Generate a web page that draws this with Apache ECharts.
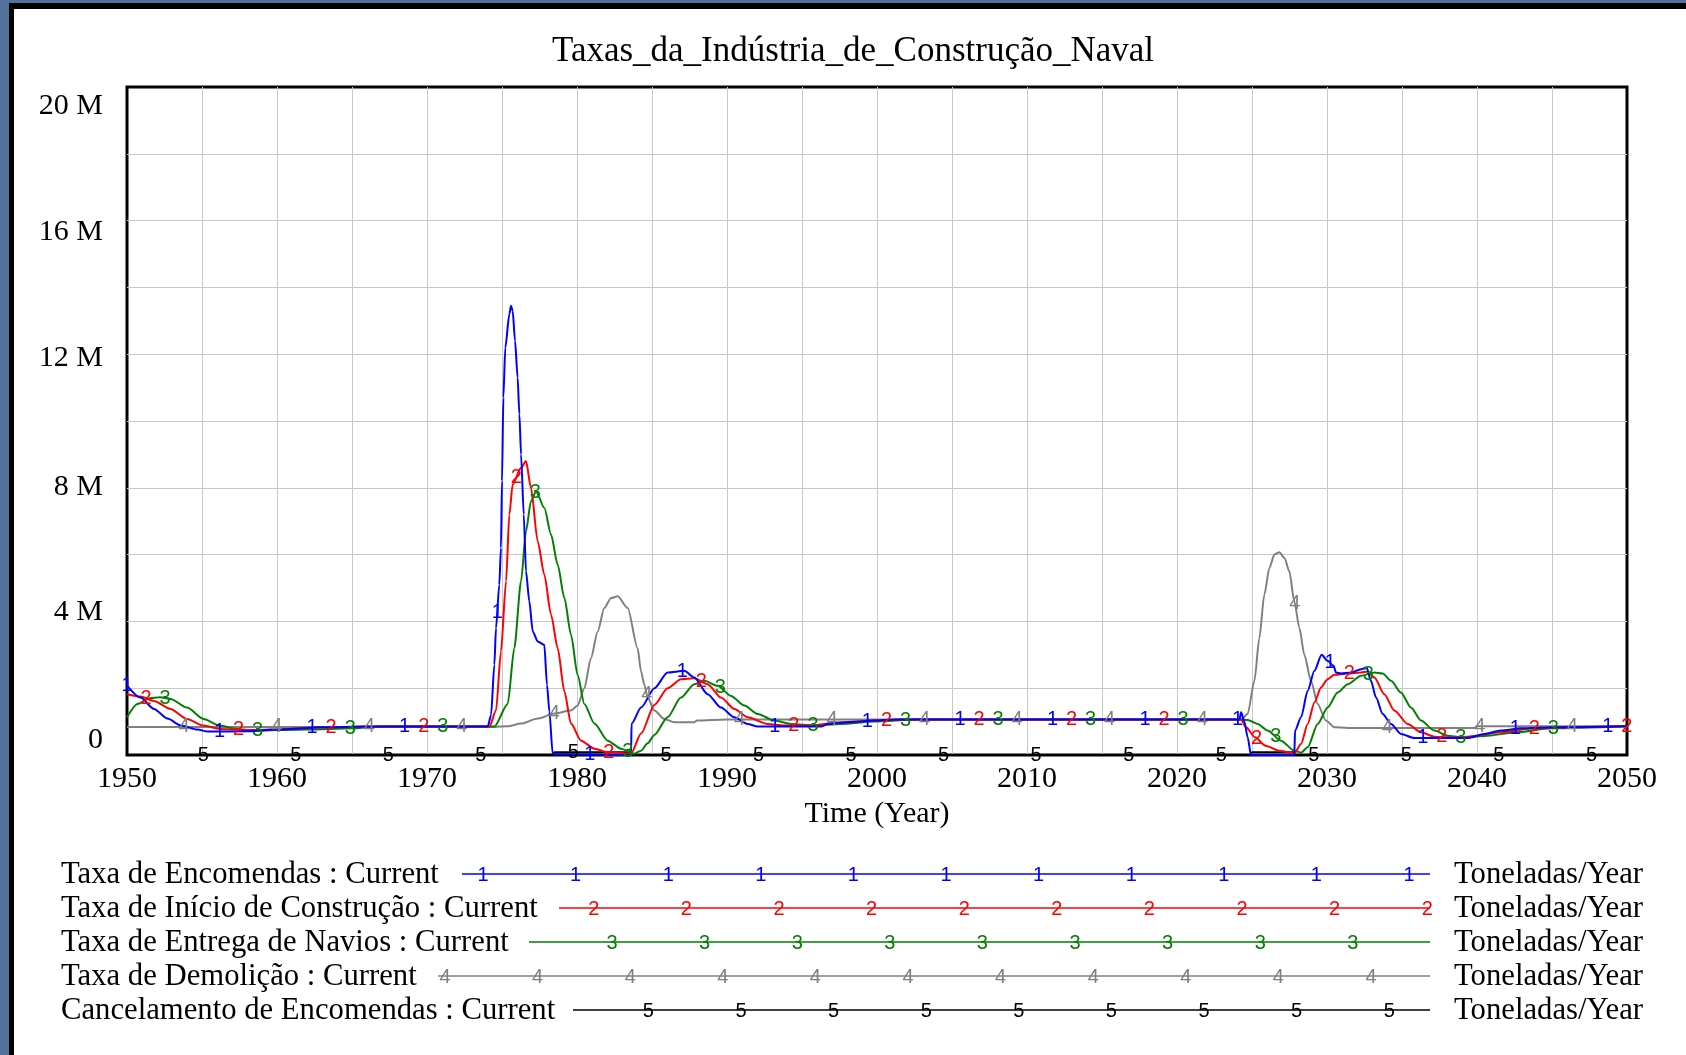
<!DOCTYPE html>
<html>
<head>
<meta charset="utf-8">
<title>Taxas da Indústria de Construção Naval</title>
<script src="https://cdn.jsdelivr.net/npm/echarts@6/dist/echarts.min.js"></script>
<style>
  html, body { margin: 0; padding: 0; }
  body { width: 1686px; height: 1055px; background: #52729c; overflow: hidden; position: relative; }
  #panel { position: absolute; left: 9px; top: 3px; right: 0; bottom: 0; background: #fff; border-left: 5px solid #000; border-top: 6px solid #000; }
  #chart { position: absolute; left: 0; top: 0; width: 1686px; height: 1055px; }
</style>
</head>
<body>
<div id="panel"></div>
<div id="chart"></div>
<script>
const chartTitle = 'Taxas_da_Indústria_de_Construção_Naval'
const xAxisName = 'Time (Year)'
const unit = 'Toneladas/Year'

const seriesNames = [
  'Taxa de Encomendas',
  'Taxa de Início de Construção',
  'Taxa de Entrega de Navios',
  'Taxa de Demolição',
  'Cancelamento de Encomendas',
]
const seriesColors = ['#0000ff', '#ff0000', '#008000', '#808080', '#000000']

// [year, million tonnes/year]
const taxaEncomendas = [
  [1950.0, 2.08], [1950.9, 1.72], [1951.8, 1.38], [1952.7, 1.09], [1953.6, 0.88], [1954.7, 0.76],
  [1955.4, 0.70], [1958.0, 0.71], [1960.0, 0.76], [1962.9, 0.83], [1966.0, 0.85], [1974.05, 0.85],
  [1974.27, 1.2], [1974.49, 2.7], [1974.6, 3.8], [1974.82, 5.1], [1974.93, 6.2], [1975.0, 8.2],
  [1975.09, 10.7], [1975.22, 12.2], [1975.49, 13.2], [1975.6, 13.45], [1975.71, 13.3], [1975.87, 12.4],
  [1976.04, 11.3], [1976.16, 10.2], [1976.27, 9.0], [1976.45, 7.2], [1976.6, 5.5], [1976.82, 4.6],
  [1977.05, 3.7], [1977.38, 3.4], [1977.82, 3.3], [1978.0, 2.1], [1978.16, 1.3], [1978.38, 0.03],
  [1983.6, 0], [1983.64, 0.94], [1984.27, 1.42], [1985.16, 2.0], [1986.04, 2.47], [1987.16, 2.52],
  [1987.82, 2.32], [1988.71, 1.82], [1989.6, 1.42], [1990.49, 1.13], [1991.38, 0.93], [1992.04, 0.85],
  [1996.27, 0.85], [1996.71, 0.93], [1998.04, 0.98], [1999.82, 1.03], [2001.16, 1.06], [2024.16, 1.06],
  [2024.27, 1.28], [2024.49, 1.0], [2024.71, 0.53], [2024.93, 0], [2027.82, 0], [2027.87, 0.73],
  [2028.27, 1.13], [2028.71, 1.92], [2029.16, 2.52], [2029.64, 3.0], [2030.04, 2.82], [2030.44, 2.67],
  [2030.6, 2.47], [2030.93, 2.44], [2031.6, 2.47], [2032.27, 2.57], [2032.64, 2.62], [2032.93, 2.22],
  [2033.27, 1.72], [2033.71, 1.23], [2034.27, 0.93], [2034.93, 0.63], [2035.82, 0.51], [2039.38, 0.51],
  [2040.49, 0.63], [2041.6, 0.73], [2042.93, 0.80], [2045.16, 0.83], [2050, 0.86],
]
const taxaInicioConstrucao = [
  [1950.0, 1.82], [1950.9, 1.75], [1951.8, 1.62], [1952.9, 1.38], [1954.0, 1.08], [1955.1, 0.88],
  [1956.2, 0.78], [1958.4, 0.75], [1960.6, 0.78], [1963.7, 0.83], [1966.0, 0.85], [1974.16, 0.85],
  [1974.6, 1.33], [1974.93, 3.1], [1975.27, 5.2], [1975.49, 7.2], [1975.71, 8.1], [1976.27, 8.6],
  [1976.6, 8.8], [1976.93, 8.0], [1977.38, 6.4], [1977.82, 5.4], [1978.27, 4.2], [1978.71, 3.2],
  [1979.16, 1.9], [1979.6, 0.94], [1980.27, 0.43], [1981.16, 0.19], [1982.04, 0.08], [1983.6, 0.04],
  [1984.27, 0.64], [1985.16, 1.5], [1986.04, 2.0], [1986.93, 2.27], [1987.82, 2.3], [1988.71, 2.12],
  [1989.6, 1.72], [1990.49, 1.38], [1991.38, 1.13], [1992.71, 0.93], [1993.82, 0.88], [1995.38, 0.88],
  [1997.6, 0.98], [1999.82, 1.03], [2001.6, 1.06], [2024.27, 1.06], [2024.6, 0.83], [2025.2, 0.53],
  [2025.9, 0.28], [2026.8, 0.13], [2027.82, 0.05], [2028.27, 0.33], [2028.71, 0.93], [2029.16, 1.57],
  [2029.6, 2.02], [2030.04, 2.27], [2030.49, 2.4], [2031.38, 2.44], [2032.27, 2.47], [2032.71, 2.5],
  [2033.16, 2.32], [2033.82, 1.82], [2034.49, 1.33], [2035.38, 0.93], [2036.27, 0.68], [2037.16, 0.55],
  [2038.27, 0.53], [2039.38, 0.55], [2041.6, 0.68], [2043.82, 0.8], [2046.04, 0.83], [2050, 0.86],
]
const taxaEntregaNavios = [
  [1950.0, 1.13], [1950.7, 1.53], [1951.5, 1.70], [1952.2, 1.73], [1952.9, 1.68], [1954.0, 1.42],
  [1955.1, 1.08], [1956.2, 0.88], [1957.3, 0.78], [1958.4, 0.73], [1962.0, 0.76], [1965.0, 0.80],
  [1967.0, 0.85], [1974.49, 0.85], [1975.38, 1.53], [1975.82, 3.2], [1976.27, 5.2], [1976.6, 6.7],
  [1976.93, 7.6], [1977.27, 7.9], [1977.82, 7.4], [1978.27, 6.6], [1978.71, 5.7], [1979.16, 4.7],
  [1979.6, 3.6], [1980.04, 2.4], [1980.49, 1.53], [1981.16, 0.94], [1982.04, 0.43], [1982.93, 0.19],
  [1983.82, 0.04], [1984.27, 0.13], [1984.71, 0.35], [1985.16, 0.6], [1986.04, 1.13], [1986.93, 1.72],
  [1987.82, 2.12], [1988.49, 2.22], [1989.38, 2.07], [1990.27, 1.77], [1991.16, 1.48], [1992.04, 1.23],
  [1993.16, 1.03], [1994.27, 0.93], [1995.82, 0.88], [1997.6, 0.93], [1999.82, 1.0], [2002.71, 1.06],
  [2024.27, 1.06], [2024.71, 1.05], [2025.38, 0.93], [2026.04, 0.73], [2026.93, 0.43], [2027.82, 0.13],
  [2028.27, 0.07], [2028.71, 0.23], [2029.38, 0.93], [2030.04, 1.42], [2030.71, 1.87], [2031.38, 2.12],
  [2032.27, 2.37], [2033.16, 2.47], [2033.71, 2.44], [2034.27, 2.22], [2034.93, 1.87], [2035.6, 1.42],
  [2036.27, 1.03], [2037.16, 0.73], [2038.04, 0.58], [2038.93, 0.53], [2040.49, 0.57], [2042.71, 0.68],
  [2044.93, 0.8], [2050, 0.86],
]
const taxaDemolicao = [
  [1950, 0.84], [1974.5, 0.84], [1975.38, 0.86], [1976.27, 0.94], [1977.38, 1.09], [1978.49, 1.24],
  [1979.6, 1.33], [1980.04, 1.48], [1980.49, 2.0], [1980.93, 2.9], [1981.38, 3.7], [1981.82, 4.4],
  [1982.27, 4.7], [1982.71, 4.75], [1983.38, 4.4], [1984.04, 3.2], [1984.27, 2.5], [1984.49, 2.1],
  [1984.71, 1.72], [1985.16, 1.33], [1985.82, 1.08], [1986.49, 0.98], [1987.8, 0.98], [1988.0, 1.03],
  [1990.0, 1.06], [2024.27, 1.06], [2024.71, 1.23], [2025.16, 2.22], [2025.49, 3.5], [2025.82, 4.8],
  [2026.16, 5.6], [2026.49, 6.0], [2026.82, 6.07], [2027.16, 5.9], [2027.49, 5.5], [2027.82, 4.6],
  [2028.16, 3.8], [2028.49, 3.0], [2028.93, 2.22], [2029.38, 1.53], [2029.93, 1.03], [2030.49, 0.83],
  [2031.38, 0.81], [2039.82, 0.81], [2040.0, 0.86], [2050, 0.86],
]
const cancelamentoEncomendas = [
  [1950, 0], [1978.4, 0], [1978.5, 0.08], [1983.6, 0.08], [1983.7, 0],
  [2024.9, 0], [2025.0, 0.08], [2027.8, 0.08], [2027.9, 0], [2050, 0],
]

const seriesData = [taxaEncomendas, taxaInicioConstrucao, taxaEntregaNavios, taxaDemolicao, cancelamentoEncomendas]

const serif = '"Liberation Serif", "Times New Roman", serif'
const sans = '"Liberation Sans", Arial, sans-serif'

// value of a series at year t, used to sit the number markers on the line
const valueAt = (data, t) => {
  for (let i = 0; i < data.length - 1; i++) {
    const [x0, y0] = data[i]
    const [x1, y1] = data[i + 1]
    if (t >= x0 && t <= x1) return x1 === x0 ? y1 : y0 + (y1 - y0) * (t - x0) / (x1 - x0)
  }
  return data[data.length - 1][1]
}

const markerYears = (idx) => {
  const out = []
  for (let t = 1950 + idx * 1.27; t <= 2050; t += 6.17) out.push(t)
  return out
}

// y labels in the original sit a bit off their grid line
const yLabelShift = { 20: 19, 16: 12, 12: 4, 8: -1, 4: -9, 0: -15 }
const yRich = {}
Object.keys(yLabelShift).forEach((v) => {
  const d = yLabelShift[v]
  yRich['m' + v] = {
    fontFamily: serif,
    fontSize: 30,
    color: '#000',
    padding: d > 0 ? [2 * d, 0, 0, 0] : [0, 0, -2 * d, 0],
  }
})

const legendGraphic = []
const legendLineStart = [462, 559, 529, 438, 573]
seriesNames.forEach((name, i) => {
  const y = 875 + i * 34
  legendGraphic.push({
    type: 'text', x: 61, y,
    style: { text: name + ' : Current', font: '30.7px ' + serif, fill: '#000', align: 'left', verticalAlign: 'middle' },
  })
  legendGraphic.push({
    type: 'line',
    shape: { x1: legendLineStart[i], y1: y - 1, x2: 1430, y2: y - 1 },
    style: { stroke: seriesColors[i], lineWidth: 1.5 },
  })
  for (let x = 483 + i * 18.2 - 92.6; x <= 1430; x += 92.6) {
    if (x < legendLineStart[i]) continue
    legendGraphic.push({
      type: 'text', x, y,
      style: { text: String(i + 1), font: '20px ' + sans, fill: seriesColors[i], align: 'center', verticalAlign: 'middle' },
    })
  }
  legendGraphic.push({
    type: 'text', x: 1454, y,
    style: { text: unit, font: '30.7px ' + serif, fill: '#000', align: 'left', verticalAlign: 'middle' },
  })
})

const series = seriesData.map((data, i) => ({
  name: seriesNames[i],
  type: 'line',
  data,
  showSymbol: false,
  clip: false,
  smooth: 0.25,
  smoothMonotone: 'x',
  lineStyle: { color: seriesColors[i], width: 2 },
  itemStyle: { color: seriesColors[i] },
  markPoint: {
    silent: true,
    symbol: 'circle',
    symbolSize: 1,
    itemStyle: { color: 'transparent' },
    label: {
      show: true,
      position: 'inside',
      formatter: String(i + 1),
      color: seriesColors[i],
      fontFamily: sans,
      fontSize: 20,
    },
    data: markerYears(i).map((t) => ({ coord: [t, valueAt(data, t)] })),
  },
})).reverse()

const chart = echarts.init(document.getElementById('chart'))

chart.setOption({
  animation: false,
  backgroundColor: 'transparent',
  title: {
    text: chartTitle,
    left: 853,
    top: 34,
    padding: 0,
    textAlign: 'center',
    textStyle: { fontFamily: serif, fontSize: 35, fontWeight: 'normal', color: '#000' },
  },
  grid: {
    left: 127,
    top: 87,
    width: 1500,
    height: 668,
    show: true,
    borderColor: '#000',
    borderWidth: 3,
  },
  xAxis: {
    type: 'value',
    min: 1950,
    max: 2050,
    interval: 5,
    name: xAxisName,
    nameLocation: 'middle',
    nameGap: 57,
    nameTextStyle: { fontFamily: serif, fontSize: 30, color: '#000', verticalAlign: 'middle' },
    axisLine: { show: false },
    axisTick: { show: false },
    axisLabel: {
      margin: 9,
      fontFamily: serif,
      fontSize: 30,
      color: '#000',
      formatter: (v) => (v % 10 === 0 ? String(v) : ''),
    },
    splitLine: { show: true, showMinLine: false, showMaxLine: false, lineStyle: { color: '#c8c8c8', width: 1 } },
  },
  yAxis: {
    type: 'value',
    min: 0,
    max: 20,
    interval: 2,
    axisLine: { show: false },
    axisTick: { show: false },
    axisLabel: {
      margin: 24,
      formatter: (v) => (v % 4 === 0 ? '{m' + v + '|' + (v === 0 ? '0' : v + ' M') + '}' : ''),
      rich: yRich,
    },
    splitLine: { show: true, showMinLine: false, showMaxLine: false, lineStyle: { color: '#c8c8c8', width: 1 } },
  },
  graphic: legendGraphic,
  series,
})
</script>
</body>
</html>
